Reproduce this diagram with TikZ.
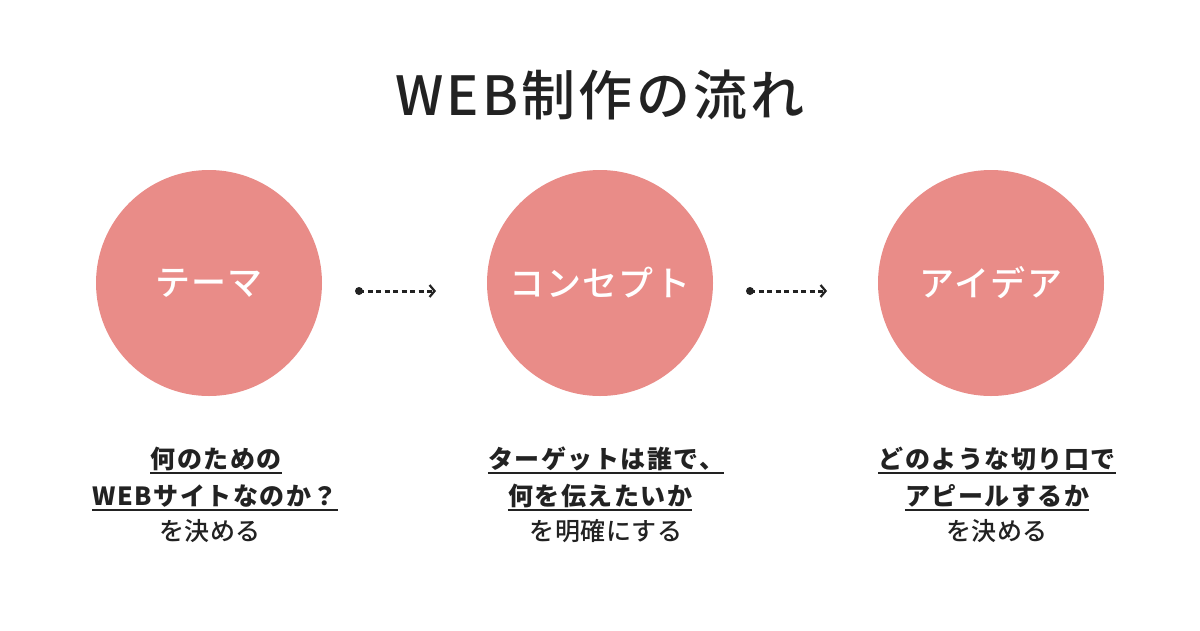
\documentclass[tikz,border=0pt]{standalone}
\usepackage{fontspec}
\setmainfont{Noto Sans CJK JP}
\newfontfamily\medfont{Noto Sans CJK JP}[UprightFont=* Medium, BoldFont=* Bold]
\usetikzlibrary{arrows.meta}
\definecolor{circpink}{HTML}{E98C88}
\definecolor{ink}{HTML}{222222}
\tikzset{
  bubble/.style={circle, fill=circpink, minimum size=226pt, inner sep=0pt, text=white,
    font=\medfont\addfontfeatures{LetterSpace=4}\fontsize{35}{40}\selectfont},
  flow/.style={line width=3pt, draw=ink, dash pattern=on 5pt off 3.5pt,
    -{Straight Barb[length=5pt,width=12pt,line width=2.2pt]}},
  startdot/.style={circle, fill=ink, minimum size=8pt, inner sep=0pt},
  boldline/.style={anchor=base, inner sep=0pt, text=ink,
    font=\bfseries\addfontfeatures{LetterSpace=6}\fontsize{25}{28}\selectfont},
  plainline/.style={anchor=base, inner sep=0pt, text=ink,
    font=\medfont\addfontfeatures{LetterSpace=2}\fontsize{25}{28}\selectfont},
  uline/.style={draw=ink, line width=2pt},
}
\begin{document}
\begin{tikzpicture}[x=1pt,y=-1pt]
\useasboundingbox (0,0) rectangle (1200,630);
\fill[white] (0,0) rectangle (1200,630);
\node[text=ink, font=\medfont\addfontfeatures{LetterSpace=6}\fontsize{54}{60}\selectfont] (title) at (600,95) {WEB制作の流れ};

\node[bubble] (c1) at (209,283) {テーマ};
\node[bubble] (c2) at (600,283) {コンセプト};
\node[bubble] (c3) at (991,283) {アイデア};

\node[startdot] (d1) at (359,291) {};
\coordinate (t1) at (436,291);
\draw[flow] (d1.center) -- (t1);
\node[startdot] (d2) at (750,291) {};
\coordinate (t2) at (827,291);
\draw[flow] (d2.center) -- (t2);

% block 1
\node[boldline] (a1) at (216,468) {何のための};
\node[boldline] (a2) at (215,505) {WEBサイトなのか？};
\node[plainline] (a3) at (210,540) {を決める};
% block 2
\node[boldline] (b1) at (606,468) {ターゲットは誰で、};
\node[boldline] (b2) at (600,505) {何を伝えたいか};
\node[plainline] (b3) at (606,540) {を明確にする};
% block 3
\node[boldline] (e1) at (997,468) {どのような切り口で};
\node[boldline] (e2) at (997,505) {アピールするか};
\node[plainline] (e3) at (997,540) {を決める};

\foreach \n in {a1,a2,b1,b2,e1,e2}{
  \draw[uline] ([yshift=-5pt]\n.base west) -- ([yshift=-5pt]\n.base east);
}
\end{tikzpicture}
\end{document}
